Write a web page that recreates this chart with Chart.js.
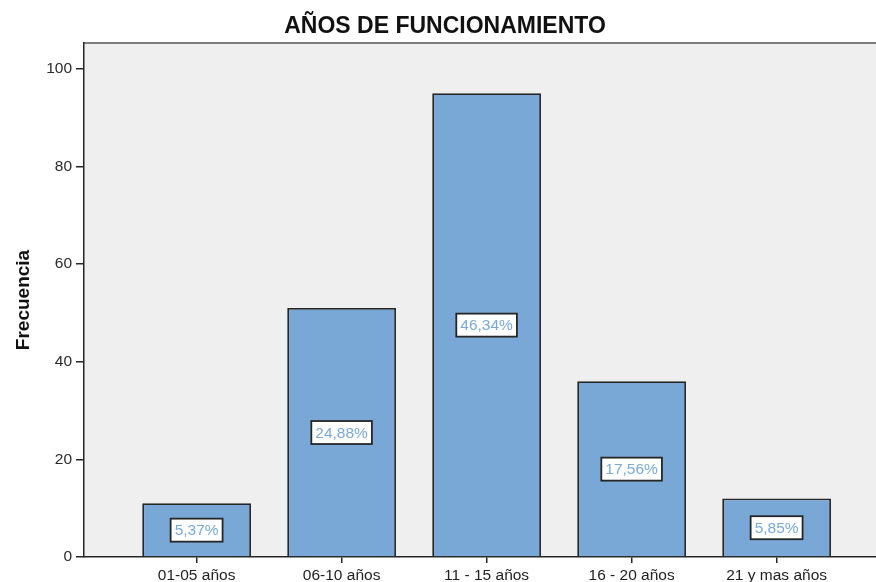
<!DOCTYPE html>
<html lang="es">
<head>
    <meta charset="UTF-8">
    <title>Años de funcionamiento</title>
    <script src="https://cdn.jsdelivr.net/npm/chart.js@4"></script>
    <style>
        html, body { margin: 0; padding: 0; background: #ffffff; overflow: hidden; }
        .grafico { width: 876px; height: 582px; }
    </style>
</head>
<body>
    <div class="grafico">
        <canvas id="grafico" width="876" height="582"></canvas>
    </div>

    <script>
        // Datos del gráfico
        const titulo = 'AÑOS DE FUNCIONAMIENTO';
        const categorias = ['01-05 años', '06-10 años', '11 - 15 años', '16 - 20 años', '21 y mas años'];
        const frecuencias = [11, 51, 95, 36, 12];
        const porcentajes = ['5,37%', '24,88%', '46,34%', '17,56%', '5,85%'];
        const ticksY = [0, 20, 40, 60, 80, 100];

        const colorEje = '#262626';

        // Fondo gris del área de trazado, borde superior y título
        const fondoPlot = {
            id: 'fondoPlot',
            beforeDraw(chart) {
                const { ctx, chartArea: a } = chart;
                ctx.save();
                ctx.fillStyle = '#efefef';
                ctx.fillRect(a.left, a.top, a.right - a.left, a.bottom - a.top);
                ctx.strokeStyle = '#7d7d7d';
                ctx.lineWidth = 2;
                ctx.beginPath();
                ctx.moveTo(a.left, a.top);
                ctx.lineTo(a.right, a.top);
                ctx.stroke();

                // título (centrado como en el original, algo a la derecha del centro)
                ctx.fillStyle = '#111111';
                ctx.font = 'bold 23px "Liberation Sans", Arial, sans-serif';
                ctx.textAlign = 'center';
                ctx.textBaseline = 'middle';
                ctx.fillText(titulo, 445, 27);
                ctx.restore();
            }
        };

        // Etiquetas de porcentaje en el centro de cada barra
        const etiquetas = {
            id: 'etiquetas',
            afterDatasetsDraw(chart) {
                const { ctx, scales } = chart;
                ctx.save();
                ctx.font = '15.5px "Liberation Sans", Arial, sans-serif';
                ctx.textAlign = 'center';
                ctx.textBaseline = 'middle';
                porcentajes.forEach((txt, i) => {
                    const x = scales.x.getPixelForValue(i);
                    const y = scales.y.getPixelForValue(frecuencias[i] / 2);
                    const w = ctx.measureText(txt).width + 8;
                    const h = 23;
                    ctx.fillStyle = '#ffffff';
                    ctx.fillRect(x - w / 2, y - h / 2, w, h);
                    ctx.strokeStyle = colorEje;
                    ctx.lineWidth = 1.8;
                    ctx.strokeRect(x - w / 2, y - h / 2, w, h);
                    ctx.fillStyle = '#79a9dc';
                    ctx.fillText(txt, x, y + 1);
                });
                ctx.restore();
            }
        };

        const ctx = document.getElementById('grafico').getContext('2d');
        const miGrafico = new Chart(ctx, {
            type: 'bar',
            data: {
                datasets: [{
                    label: 'Frecuencia',
                    data: frecuencias.map((v, i) => ({ x: i, y: v })),
                    backgroundColor: '#7aa8d6',
                    borderColor: colorEje,
                    borderWidth: 1.8,
                    barPercentage: 0.75,
                    categoryPercentage: 1
                }]
            },
            options: {
                responsive: false,
                animation: false,
                layout: { padding: { left: 0, right: 0, top: 43, bottom: 0 } },
                plugins: {
                    legend: { display: false },
                    tooltip: { enabled: false },
                    title: { display: false }
                },
                scales: {
                    x: {
                        type: 'linear',
                        offset: false,
                        min: -0.7766,
                        max: 4.6855,
                        afterBuildTicks(scale) {
                            scale.ticks = categorias.map((c, i) => ({ value: i }));
                        },
                        afterFit(scale) { scale.height = 25; },
                        grid: { display: true, offset: false, drawOnChartArea: false, drawTicks: true, tickLength: 6, color: colorEje, lineWidth: 1.5 },
                        border: { display: true, color: colorEje, width: 1.5 },
                        ticks: {
                            autoSkip: false,
                            maxRotation: 0,
                            padding: 3,
                            color: '#222222',
                            font: { family: '"Liberation Sans", Arial, sans-serif', size: 15.5 },
                            callback: (v) => categorias[v]
                        }
                    },
                    y: {
                        min: 0,
                        max: 105.3,
                        afterBuildTicks(scale) {
                            scale.ticks = ticksY.map(v => ({ value: v }));
                        },
                        afterFit(scale) { scale.width = 84; },
                        grid: { display: true, drawOnChartArea: false, drawTicks: true, tickLength: 8, color: colorEje, lineWidth: 1.5 },
                        border: { display: true, color: colorEje, width: 1.5 },
                        ticks: {
                            padding: 4,
                            color: '#2a2a2a',
                            font: { family: '"Liberation Sans", Arial, sans-serif', size: 15.5 }
                        },
                        title: {
                            display: true,
                            text: 'Frecuencia',
                            color: '#111111',
                            font: { family: '"Liberation Sans", Arial, sans-serif', size: 19, weight: 'bold' },
                            padding: { top: 12, bottom: 0 }
                        }
                    }
                }
            },
            plugins: [fondoPlot, etiquetas]
        });
    </script>
</body>
</html>
